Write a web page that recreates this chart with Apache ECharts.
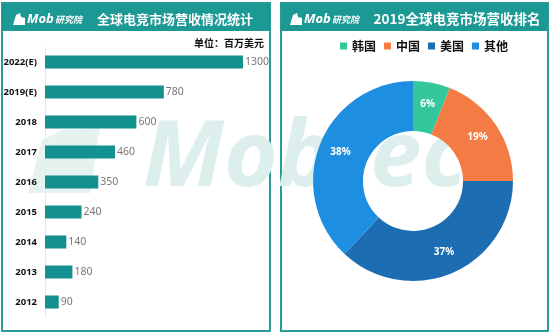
<!DOCTYPE html>
<html><head><meta charset="utf-8">
<script src="https://cdn.jsdelivr.net/npm/echarts/dist/echarts.min.js"></script>
<style>html,body{margin:0;padding:0;background:#fff}#c{width:551px;height:336px}</style>
</head><body><div id="c"></div>
<script>
// ---- data ----
const years = ['2012','2013','2014','2015','2016','2017','2018','2019(E)','2022(E)'];
const revenue = [90,180,140,240,350,460,600,780,1300];
const regions = ['韩国','中国','美国','其他'];
const shares = [6,19,37,38];
const leftTitle = '全球电竞市场营收情况统计';
const rightTitle = '2019全球电竞市场营收排名';
const unitText = '单位：百万美元';

// ---- styles ----
const regionColors = ['#35c79c','#f47b43','#1d6db2','#1e8fe0'];
const teal = '#1c9995';
const barColor = '#13918e';
const border = '#2a9c96';
const FF = '"Noto Sans CJK SC","Noto Sans",sans-serif';

function logo(x) {
  return [
    {type:'polygon', z:60, shape:{points:[[x,25],[x+3,15],[x+7,13],[x+8,17],[x+12,18],[x+12,25]]}, style:{fill:'#fff'}},
    {type:'text', z:60, style:{text:'Mob', x:x+14, y:19, font:'italic bold 13px "Noto Sans",sans-serif', fill:'#fff', textVerticalAlign:'middle'}},
    {type:'text', z:60, style:{text:'研究院', x:x+42, y:20, font:'italic bold 9px "Noto Sans CJK SC",sans-serif', fill:'#fff', textVerticalAlign:'middle'}}
  ];
}

const chart = echarts.init(document.getElementById('c'), null, {renderer:'canvas'});
chart.setOption({
  animation:false,
  textStyle:{fontFamily:FF},
  graphic:[
    {type:'rect', z:-20, shape:{x:2,y:3,width:268,height:328}, style:{fill:'#fff', stroke:border, lineWidth:2}},
    {type:'rect', z:-20, shape:{x:281,y:3,width:267,height:328}, style:{fill:'#fff', stroke:border, lineWidth:2}},
    {type:'polygon', z:-15, shape:{points:[[28,193],[42,140],[62,130],[100,128],[90,193]]}, style:{fill:'#e5f2f0'}},
    {type:'text', z:-15, style:{text:'Mobtec', x:143, y:160, font:'italic bold 92px "Noto Sans",sans-serif', fill:'#dcefed', textVerticalAlign:'middle'}},
    {type:'rect', z:50, shape:{x:2,y:3,width:268,height:28}, style:{fill:teal}},
    {type:'rect', z:50, shape:{x:281,y:3,width:267,height:28}, style:{fill:teal}},
    ...logo(13),
    ...logo(290),
    {type:'text', z:60, style:{text:leftTitle, x:175, y:19, font:'bold 13px '+FF, fill:'#fff', textAlign:'center', textVerticalAlign:'middle'}},
    {type:'text', z:60, style:{text:rightTitle, x:457, y:19, font:'bold 13.5px '+FF, fill:'#fff', textAlign:'center', textVerticalAlign:'middle'}},
    {type:'text', z:60, style:{text:unitText, x:264, y:43, font:'bold 10px '+FF, fill:'#111', textAlign:'right', textVerticalAlign:'middle'}}
  ],
  legend:{
    data:regions, left:335, top:35, itemWidth:7, itemHeight:7, itemGap:8, icon:'rect',
    textStyle:{fontSize:12, fontWeight:'bold', color:'#111', fontFamily:FF}
  },
  grid:{left:45, top:47, width:198, height:270, containLabel:false},
  xAxis:{type:'value', min:0, max:1300, show:false},
  yAxis:{type:'category', data:years,
    axisTick:{show:false},
    axisLine:{show:true, lineStyle:{color:'#e8e8e8'}},
    axisLabel:{margin:8, fontSize:9.5, fontWeight:'bold', color:'#111', fontFamily:'"Noto Sans",sans-serif'}
  },
  series:[
    {type:'bar', data:revenue, barWidth:13, itemStyle:{color:barColor}, z:3,
     label:{show:true, position:'right', distance:2, color:'#777', fontSize:10.5, fontFamily:'"Noto Sans",sans-serif'}},
    {type:'pie', center:[413,181], radius:[50,100], startAngle:90, clockwise:true, z:3,
     data:regions.map((r,i)=>({name:r, value:shares[i], itemStyle:{color:regionColors[i]}})),
     label:{show:true, position:'inside', formatter:'{c}%', color:'#fff', fontSize:10, fontWeight:'bold', fontFamily:'"Noto Sans",sans-serif'},
     labelLine:{show:false}, emphasis:{disabled:true}}
  ]
});
</script></body></html>
